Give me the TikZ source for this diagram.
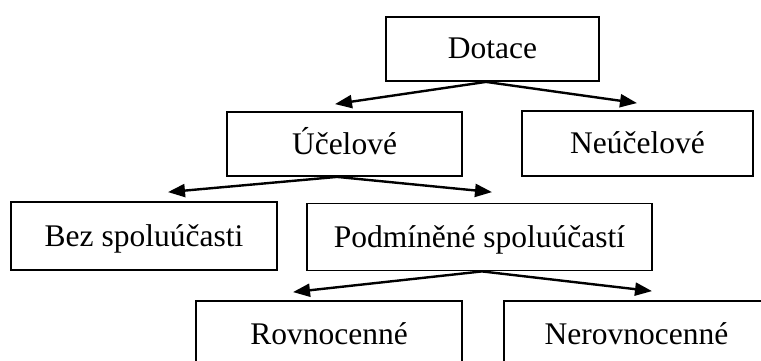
\documentclass[tikz,border=0pt]{standalone}
\usepackage{fontspec}
\setmainfont{Liberation Serif}
\usetikzlibrary{arrows.meta}
\begin{document}
\begin{tikzpicture}[x=1pt,y=-1pt,
  box/.style={draw, line width=1.8pt, rectangle, inner sep=0pt,
    font=\fontsize{31.5}{36}\selectfont, text height=27pt, text depth=7pt},
  conn/.style={line width=2.4pt, -{Triangle[length=17pt,width=13pt]}}]
\clip (0,0) rectangle (761,361);
\fill[white] (0,0) rectangle (761,361);
\node[box, minimum width=213pt, minimum height=64pt] (dot) at (492.5,49) {Dotace};
\node[box, minimum width=235pt, minimum height=64pt] (uce) at (344.5,144) {Účelové};
\node[box, minimum width=231pt, minimum height=65pt] (neu) at (637.5,143.5) {Neúčelové};
\node[box, minimum width=266pt, minimum height=68pt] (bez) at (144,236) {Bez spoluúčasti};
\node[box, minimum width=345pt, minimum height=67pt] (pod) at (479.5,237) {Podmíněné spoluúčastí};
\node[box, minimum width=266pt, minimum height=67pt] (rov) at (329,334.5) {Rovnocenné};
\node[box, minimum width=265pt, minimum height=67pt] (ner) at (636.5,334.5) {Nerovnocenné};
\draw[conn] ([xshift=-6.5pt]dot.south) -- ([xshift=-9.5pt,yshift=7pt]uce.north);
\draw[conn] ([xshift=-6.5pt]dot.south) -- ([xshift=-0.5pt,yshift=7pt]neu.north);
\draw[conn] ([xshift=-7.5pt]uce.south) -- ([xshift=24pt,yshift=9pt]bez.north);
\draw[conn] ([xshift=-7.5pt]uce.south) -- ([xshift=12.5pt,yshift=10.5pt]pod.north);
\draw[conn] ([xshift=2.5pt]pod.south) -- ([xshift=-36pt,yshift=8pt]rov.north);
\draw[conn] ([xshift=2.5pt]pod.south) -- ([xshift=15.5pt,yshift=9pt]ner.north);
\end{tikzpicture}
\end{document}
